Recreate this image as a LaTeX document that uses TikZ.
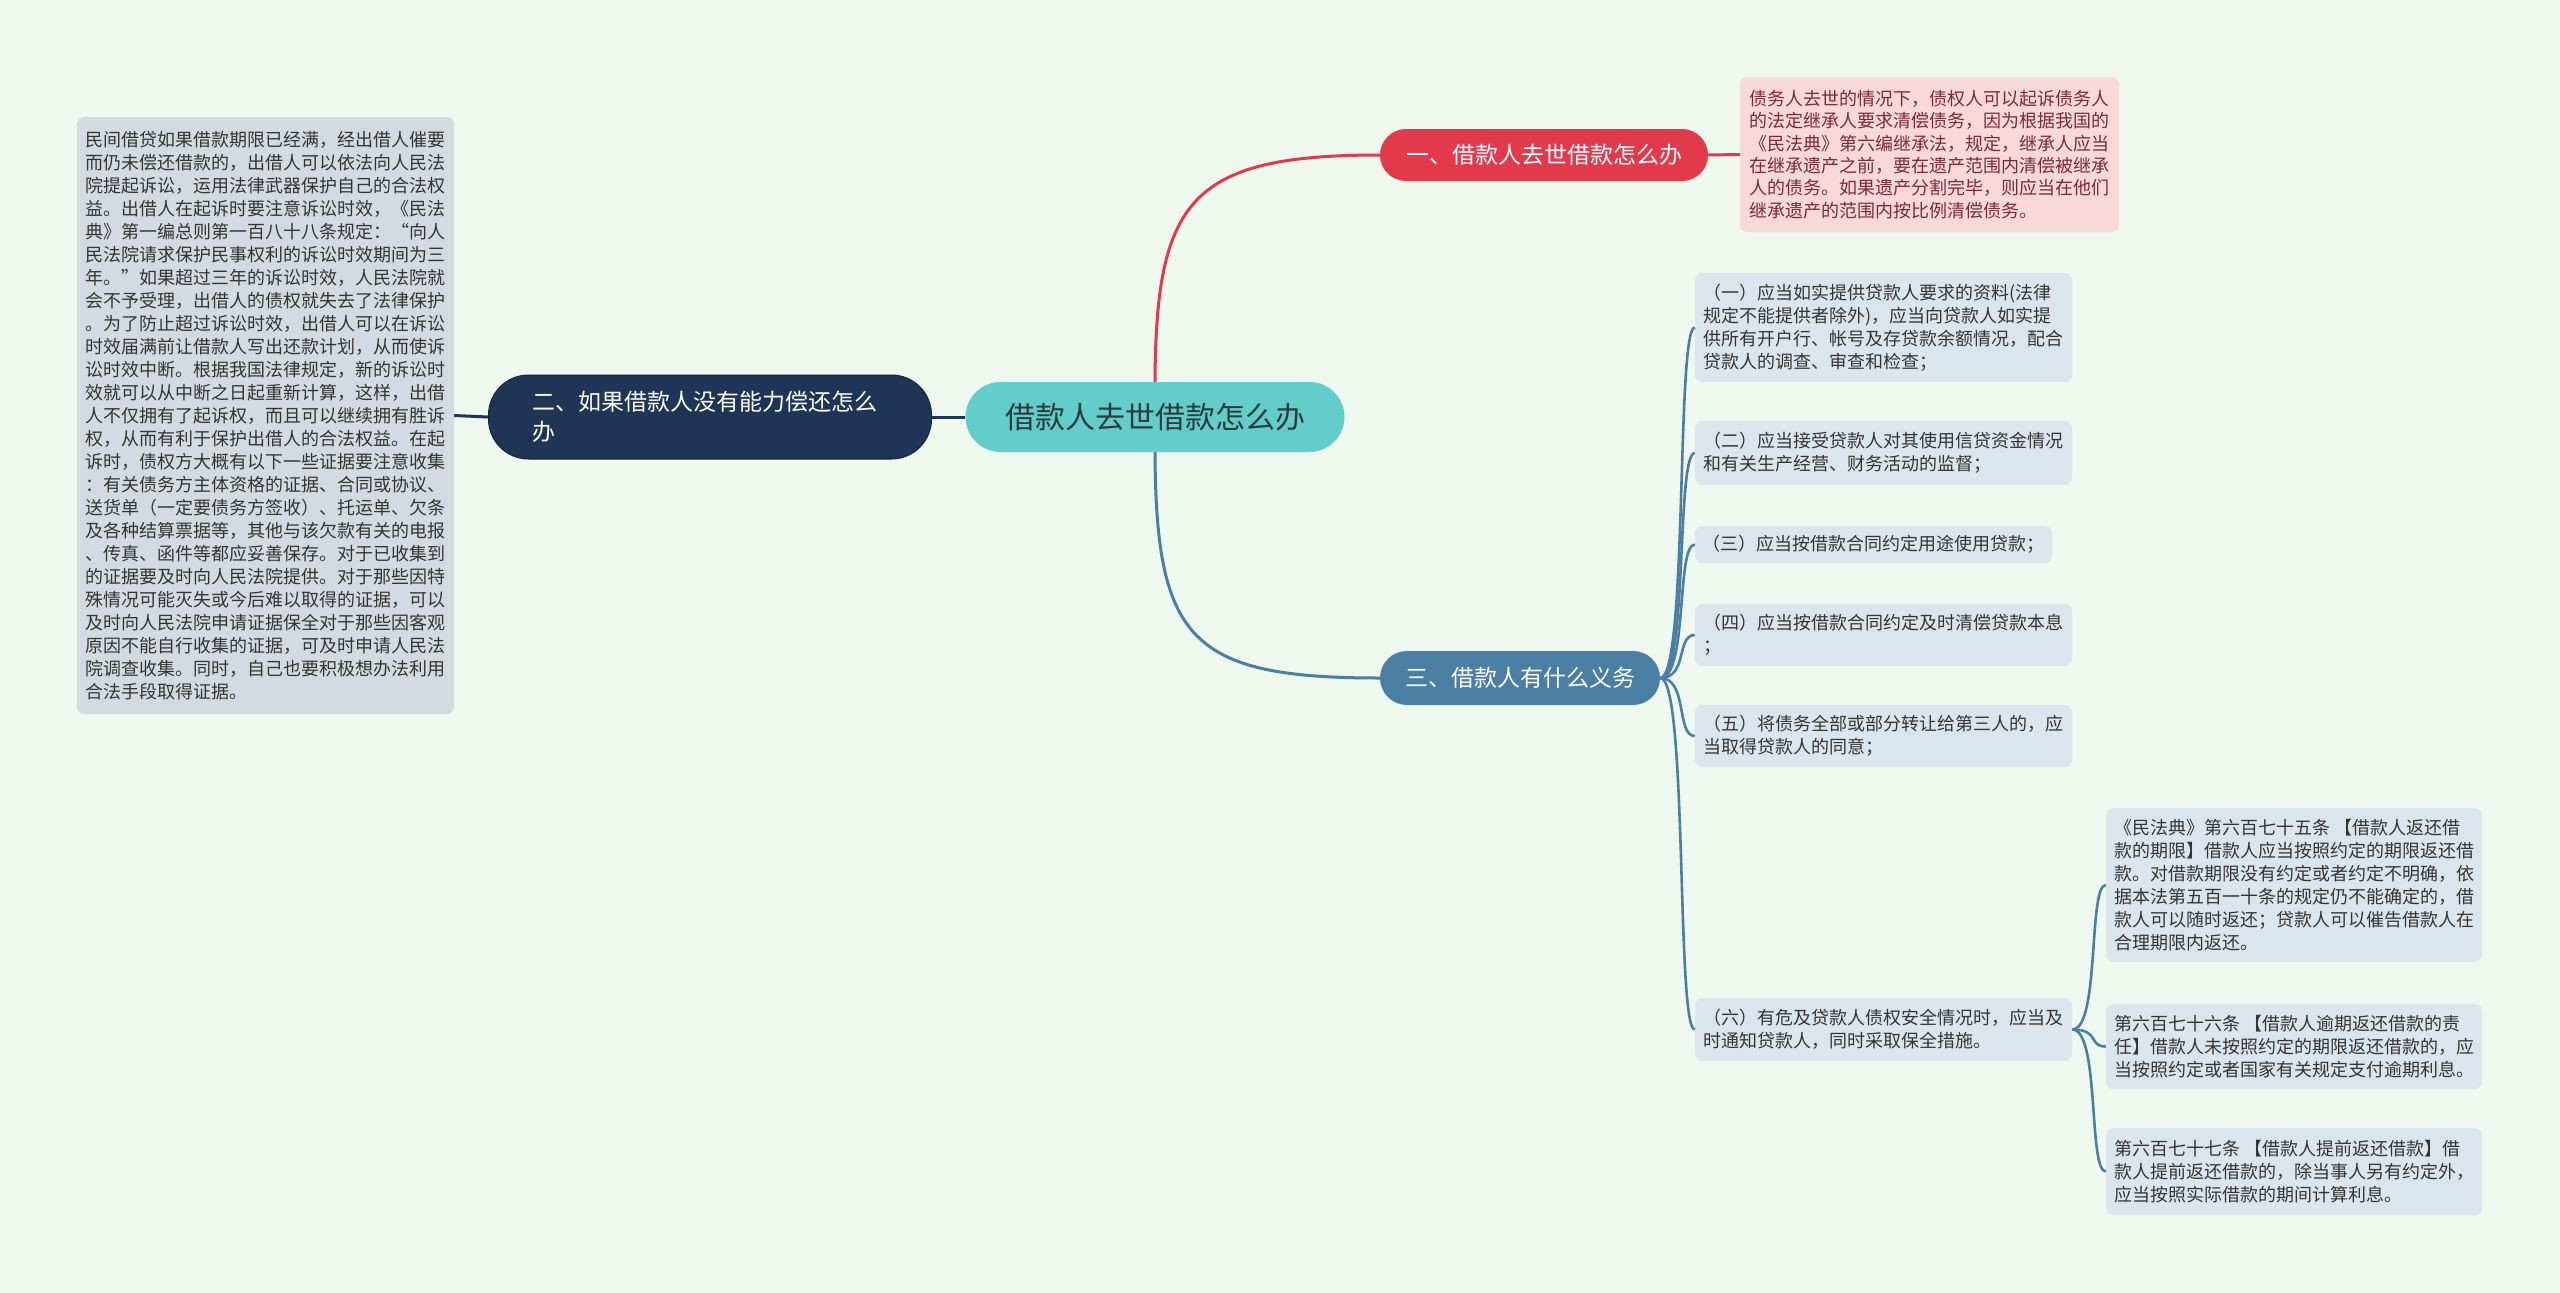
\documentclass[tikz,border=0pt]{standalone}
\usepackage{fontspec}
\setmainfont{Noto Sans CJK SC}
\definecolor{bgc}{HTML}{EFF8EE}
\definecolor{redc}{HTML}{E33A4B}
\definecolor{bluec}{HTML}{4A7EA2}
\definecolor{navyc}{HTML}{1E3556}
\definecolor{tealc}{HTML}{63CDCC}
\definecolor{graybox}{HTML}{D5DAE0}
\definecolor{lightbox}{HTML}{DDE5EC}
\definecolor{pinkbox}{HTML}{F9D8DC}
\definecolor{pinktxt}{HTML}{7A2A35}
\definecolor{txtc}{HTML}{333333}
\definecolor{ctxt}{HTML}{2B3B3B}
\begin{document}
\begin{tikzpicture}[x=1pt,y=-1pt,
  box/.style={rounded corners=7pt, align=left, inner xsep=0pt, inner ysep=0pt,
    font=\fontsize{18}{23}\selectfont, text=txtc, fill=lightbox},
  pill/.style={align=left, inner sep=0pt, text=white, font=\fontsize{23}{30}\selectfont},
  redline/.style={draw=redc, line width=3pt},
  blueline/.style={draw=bluec, line width=2.6pt},
  navyline/.style={draw=navyc, line width=3pt}]
\fill[bgc] (0,0) rectangle (2560,1293);
\useasboundingbox (0,0) rectangle (2560,1293);

% main nodes
\node[pill, fill=tealc, text=ctxt, rounded corners=35pt, minimum width=379pt, minimum height=70pt,
  font=\fontsize{30}{36}\selectfont] (C) at (1155,417) {借款人去世借款怎么办};
\node[pill, fill=redc, rounded corners=26pt, minimum width=328pt, minimum height=52pt] (n1) at (1544,155) {一、借款人去世借款怎么办};
\node[pill, fill=bluec, rounded corners=27pt, minimum width=280pt, minimum height=54pt] (n3) at (1520,678) {三、借款人有什么义务};
\node[pill, fill=navyc, draw=navyc!70!black, line width=1pt, rounded corners=40pt, minimum width=443pt, minimum height=84pt] (n2) at (710,417) {\hspace*{-10pt}二、如果借款人没有能力偿还怎么\\\hspace*{-10pt}办};

% left text box
\node[box, fill=graybox, minimum width=377pt, minimum height=597pt] (L) at (265.5,415.5) {民间借贷如果借款期限已经满，经出借人催要\\
而仍未偿还借款的，出借人可以依法向人民法\\
院提起诉讼，运用法律武器保护自己的合法权\\
益。出借人在起诉时要注意诉讼时效，《民法\\
典》第一编总则第一百八十八条规定：“向人\\
民法院请求保护民事权利的诉讼时效期间为三\\
年。”如果超过三年的诉讼时效，人民法院就\\
会不予受理，出借人的债权就失去了法律保护\\
。为了防止超过诉讼时效，出借人可以在诉讼\\
时效届满前让借款人写出还款计划，从而使诉\\
讼时效中断。根据我国法律规定，新的诉讼时\\
效就可以从中断之日起重新计算，这样，出借\\
人不仅拥有了起诉权，而且可以继续拥有胜诉\\
权，从而有利于保护出借人的合法权益。在起\\
诉时，债权方大概有以下一些证据要注意收集\\
：有关债务方主体资格的证据、合同或协议、\\
送货单（一定要债务方签收）、托运单、欠条\\
及各种结算票据等，其他与该欠款有关的电报\\
、传真、函件等都应妥善保存。对于已收集到\\
的证据要及时向人民法院提供。对于那些因特\\
殊情况可能灭失或今后难以取得的证据，可以\\
及时向人民法院申请证据保全对于那些因客观\\
原因不能自行收集的证据，可及时申请人民法\\
院调查收集。同时，自己也要积极想办法利用\\
合法手段取得证据。};

% pink box
\node[box, fill=pinkbox, text=pinktxt, font=\fontsize{18}{22.3}\selectfont, minimum width=379pt, minimum height=155pt] (P) at (1929.5,154.5) {债务人去世的情况下，债权人可以起诉债务人\\
的法定继承人要求清偿债务，因为根据我国的\\
《民法典》第六编继承法，规定，继承人应当\\
在继承遗产之前，要在遗产范围内清偿被继承\\
人的债务。如果遗产分割完毕，则应当在他们\\
继承遗产的范围内按比例清偿债务。};

% children of 三
\node[box, minimum width=377pt, minimum height=109pt] (c1) at (1883.5,327.5) {（一）应当如实提供贷款人要求的资料(法律\\
规定不能提供者除外)，应当向贷款人如实提\\
供所有开户行、帐号及存贷款余额情况，配合\\
贷款人的调查、审查和检查；};
\node[box, minimum width=377pt, minimum height=64pt] (c2) at (1883.5,453) {（二）应当接受贷款人对其使用信贷资金情况\\
和有关生产经营、财务活动的监督；};
\node[box, minimum width=357pt, minimum height=37pt] (c3) at (1873.5,544.5) {（三）应当按借款合同约定用途使用贷款；};
\node[box, minimum width=377pt, minimum height=62pt] (c4) at (1883.5,635) {（四）应当按借款合同约定及时清偿贷款本息\\
；};
\node[box, minimum width=377pt, minimum height=62pt] (c5) at (1883.5,736) {（五）将债务全部或部分转让给第三人的，应\\
当取得贷款人的同意；};
\node[box, minimum width=377pt, minimum height=63pt] (c6) at (1883.5,1029.5) {（六）有危及贷款人债权安全情况时，应当及\\
时通知贷款人，同时采取保全措施。};

% children of 六
\node[box, minimum width=376pt, minimum height=154pt] (d1) at (2294,885) {《民法典》第六百七十五条 【借款人返还借\\
款的期限】借款人应当按照约定的期限返还借\\
款。对借款期限没有约定或者约定不明确，依\\
据本法第五百一十条的规定仍不能确定的，借\\
款人可以随时返还；贷款人可以催告借款人在\\
合理期限内返还。};
\node[box, minimum width=376pt, minimum height=85pt] (d2) at (2294,1046.5) {第六百七十六条 【借款人逾期返还借款的责\\
任】借款人未按照约定的期限返还借款的，应\\
当按照约定或者国家有关规定支付逾期利息。};
\node[box, minimum width=376pt, minimum height=87pt] (d3) at (2294,1171.5) {第六百七十七条 【借款人提前返还借款】借\\
款人提前返还借款的，除当事人另有约定外，\\
应当按照实际借款的期间计算利息。};

% connectors
\draw[redline] (C.north) .. controls (1156,200) and (1190,155) .. (n1.west);
\draw[redline] (n1.east) -- (P.west);
\draw[blueline, line width=3pt] (C.south) .. controls (1156,640) and (1190,678) .. (n3.west);
\draw[navyline] (C.west) -- (n2.east);
\draw[navyline] (n2.west) -- (L.east);
\foreach \c/\y in {c1/327.5, c2/453, c3/544.5, c4/635, c5/736, c6/1029.5}
  \draw[blueline] (n3.east) .. controls (1688,678) and (1676,\y) .. (\c.west);
\foreach \c/\y in {d1/885, d2/1046.5, d3/1171.5}
  \draw[blueline] (c6.east) .. controls (2100,1029.5) and (2088,\y) .. (\c.west);
\end{tikzpicture}
\end{document}
